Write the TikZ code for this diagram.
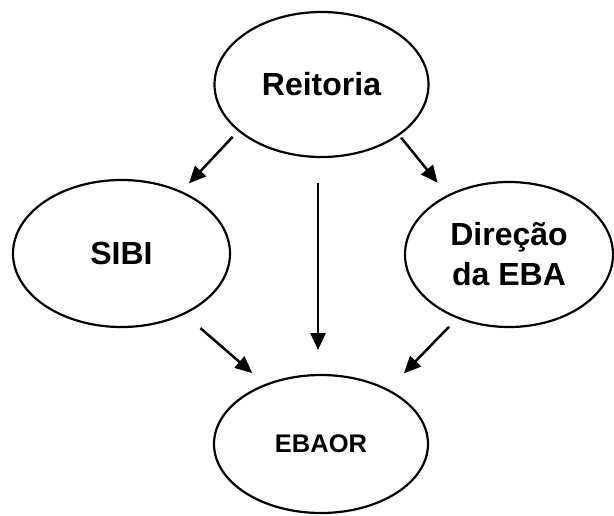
\documentclass[tikz,border=0pt]{standalone}
\usepackage{fontspec}
\setmainfont{Liberation Sans}
\usetikzlibrary{shapes.geometric,arrows.meta}
\tikzset{
  orgbox/.style={ellipse,draw=black,line width=2.2pt,inner sep=0pt,outer sep=0pt,
    align=center,font=\bfseries\fontsize{32}{40}\selectfont},
  orgarrow/.style={line width=2.5pt,-{Triangle[length=17pt,width=15pt]}}
}
\begin{document}
\begin{tikzpicture}[x=1pt,y=-1pt]
\useasboundingbox (0,0) rectangle (614,515);
\node[orgbox,minimum width=214pt,minimum height=145pt] (reit) at (321.5,84.5) {Reitoria};
\node[orgbox,minimum width=217pt,minimum height=147pt] (sibi) at (121.5,253.5) {SIBI};
\node[orgbox,minimum width=208pt,minimum height=145pt] (dir) at (509,254.5) {Direção\\da EBA};
\node[orgbox,minimum width=214pt,minimum height=138pt,font=\bfseries\fontsize{25.5}{30}\selectfont] (ebaor) at (321,444) {\raisebox{-4pt}{EBAOR}};
\draw[orgarrow,shorten <=8.7pt,shorten >=11.8pt] (reit.209.3) -- (sibi.46.8);
\draw[orgarrow,shorten <=3.8pt,shorten >=16.7pt] (reit.327.7) -- (dir.136.8);
\draw[orgarrow,shorten <=26pt,shorten >=25pt] ([xshift=-3.5pt]reit.south) -- ([xshift=-3pt]ebaor.north);
\draw[orgarrow,shorten <=22pt,shorten >=18pt] (sibi.316.5) -- (ebaor.133.5);
\draw[orgarrow,shorten <=12.6pt,shorten >=23.3pt] (dir.231.8) -- (ebaor.39.8);
\end{tikzpicture}
\end{document}
